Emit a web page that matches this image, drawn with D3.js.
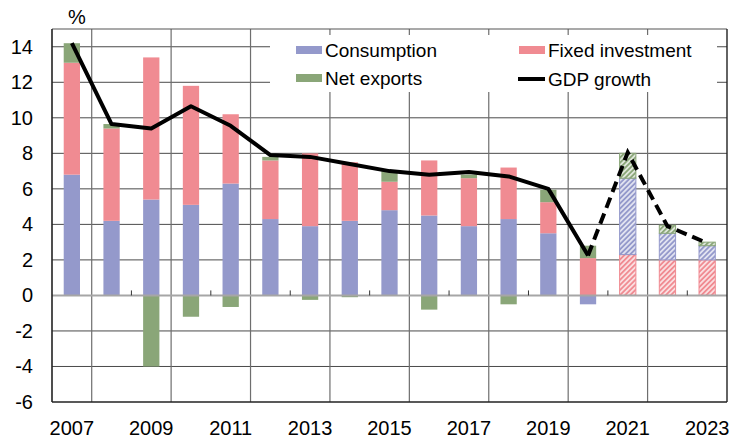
<!DOCTYPE html>
<html>
<head>
<meta charset="utf-8">
<script src="https://cdn.jsdelivr.net/npm/d3@7"></script>
<style>
  html, body { margin: 0; padding: 0; background: #fff; }
  svg { display: block; font-family: "Liberation Sans", Arial, sans-serif; }
</style>
</head>
<body>
<svg id="chart" width="730" height="439"></svg>
<script>
const years = [2007, 2008, 2009, 2010, 2011, 2012, 2013, 2014, 2015, 2016, 2017, 2018, 2019, 2020, 2021, 2022, 2023];
const consumption = [6.8, 4.2, 5.4, 5.1, 6.3, 4.3, 3.9, 4.2, 4.8, 4.5, 3.9, 4.3, 3.5, -0.5, 4.3, 1.5, 0.8];
const investment = [6.3, 5.2, 8.0, 6.7, 3.9, 3.3, 4.1, 3.3, 1.6, 3.1, 2.7, 2.9, 1.75, 2.1, 2.3, 2.0, 2.0];
const netExports = [1.1, 0.25, -4.0, -1.2, -0.65, 0.2, -0.25, -0.1, 0.6, -0.8, 0.2, -0.5, 0.7, 0.7, 1.4, 0.45, 0.2];
const gdpGrowth = [14.2, 9.65, 9.4, 10.65, 9.55, 7.9, 7.8, 7.4, 7.0, 6.8, 6.95, 6.7, 6.0, 2.25, 8.05, 3.9, 2.95];
const firstForecastYear = 2021;
const yTicks = [-6, -4, -2, 0, 2, 4, 6, 8, 10, 12, 14];
const xLabels = [2007, 2009, 2011, 2013, 2015, 2017, 2019, 2021, 2023];
const seriesNames = ["Consumption", "Fixed investment", "Net exports", "GDP growth"];

const colors = { c: "#9499cb", i: "#f08b92", nx: "#8aa678" };

const svg = d3.select("#chart");
const m = { left: 52, right: 3, top: 29, bottom: 37 };
const W = 730, H = 439;

const x = d3.scaleBand().domain(years).range([m.left, W - m.right]).paddingInner(0).paddingOuter(0);
const y = d3.scaleLinear().domain([-6, 15]).range([H - m.bottom, m.top]);
const bw = x.bandwidth() * 0.41;

// patterns
const defs = svg.append("defs");
Object.entries(colors).forEach(([k, col]) => {
  const p = defs.append("pattern").attr("id", "hatch-" + k)
    .attr("patternUnits", "userSpaceOnUse").attr("width", 3.6).attr("height", 3.6)
    .attr("patternTransform", "rotate(45)");
  p.append("rect").attr("width", 3.6).attr("height", 3.6).attr("fill", col);
  p.append("line").attr("x1", 0.9).attr("y1", 0).attr("x2", 0.9).attr("y2", 3.6)
    .attr("stroke", "#fff").attr("stroke-width", 1.3);
});

// gridlines horizontal
svg.append("g").selectAll("line").data(yTicks.filter(d => d !== 0 && d !== -6)).join("line")
  .attr("x1", m.left).attr("x2", W - m.right)
  .attr("y1", d => y(d)).attr("y2", d => y(d))
  .attr("stroke", "#4a4a4a").attr("stroke-width", 1);

// vertical gridlines at every second boundary
const boundaries = years.slice(1).map(yr => x(yr));
svg.append("g").selectAll("line").data(boundaries.filter((d, i) => i % 2 === 0)).join("line")
  .attr("x1", d => d).attr("x2", d => d)
  .attr("y1", m.top).attr("y2", H - m.bottom)
  .attr("stroke", "#6e6e6e").attr("stroke-width", 1.2);

// stacking
const stacked = [];
years.forEach((yr, idx) => {
  const fc = yr >= firstForecastYear;
  const parts = { c: consumption[idx], i: investment[idx], nx: netExports[idx] };
  const order = fc ? ["i", "c", "nx"] : ["c", "i", "nx"];
  let pos = 0, neg = 0;
  order.forEach(k => {
    const v = parts[k];
    let y0, y1;
    if (v >= 0) { y0 = pos; y1 = pos + v; pos = y1; }
    else { y0 = neg; y1 = neg + v; neg = y1; }
    stacked.push({ year: yr, key: k, y0, y1, fc });
  });
});

svg.append("g").selectAll("rect").data(stacked).join("rect")
  .attr("x", d => x(d.year) + (x.bandwidth() - bw) / 2)
  .attr("width", bw)
  .attr("y", d => y(Math.max(d.y0, d.y1)))
  .attr("height", d => Math.abs(y(d.y0) - y(d.y1)))
  .attr("fill", d => d.fc ? `url(#hatch-${d.key})` : colors[d.key])
  .attr("stroke", d => d.fc ? colors[d.key] : "none")
  .attr("stroke-width", 1);

// zero line
svg.append("line").attr("x1", m.left).attr("x2", W - m.right)
  .attr("y1", y(0)).attr("y2", y(0)).attr("stroke", "#a6a6a6").attr("stroke-width", 2);

// minor ticks at other boundaries
svg.append("g").selectAll("line").data(boundaries.filter((d, i) => i % 2 === 1)).join("line")
  .attr("x1", d => d).attr("x2", d => d)
  .attr("y1", y(0) - 5).attr("y2", y(0))
  .attr("stroke", "#333").attr("stroke-width", 1);

// frame
svg.append("line").attr("x1", m.left).attr("x2", W - m.right).attr("y1", m.top).attr("y2", m.top)
  .attr("stroke", "#555").attr("stroke-width", 1.2);
svg.append("line").attr("x1", W - m.right).attr("x2", W - m.right).attr("y1", m.top).attr("y2", H - m.bottom)
  .attr("stroke", "#222").attr("stroke-width", 1.4);
svg.append("line").attr("x1", m.left).attr("x2", W - m.right).attr("y1", H - m.bottom).attr("y2", H - m.bottom)
  .attr("stroke", "#222").attr("stroke-width", 1.6);
svg.append("line").attr("x1", m.left).attr("x2", m.left).attr("y1", m.top).attr("y2", H - m.bottom)
  .attr("stroke", "#222").attr("stroke-width", 1.6);

// GDP line
const pts = years.map((yr, i) => ({ yr, v: gdpGrowth[i] }));
const line = d3.line().x(d => x(d.yr) + x.bandwidth() / 2).y(d => y(d.v));
const solidPts = pts.filter(d => d.yr < firstForecastYear);
const dashPts = pts.filter(d => d.yr >= firstForecastYear - 1);
svg.append("path").attr("d", line(solidPts)).attr("fill", "none")
  .attr("stroke", "#000").attr("stroke-width", 4).attr("stroke-linejoin", "round");
svg.append("path").attr("d", line(dashPts)).attr("fill", "none")
  .attr("stroke", "#000").attr("stroke-width", 4).attr("stroke-dasharray", "11,6");

// legend
const lg = svg.append("g");
lg.append("rect").attr("x", 270).attr("y", 35).attr("width", 447).attr("height", 57).attr("fill", "#fff");
const legendItems = [
  { name: seriesNames[0], type: "rect", col: colors.c, lx: 296, ly: 50 },
  { name: seriesNames[1], type: "rect", col: colors.i, lx: 519, ly: 50 },
  { name: seriesNames[2], type: "rect", col: colors.nx, lx: 296, ly: 78 },
  { name: seriesNames[3], type: "line", col: "#000", lx: 519, ly: 79 }
];
legendItems.forEach(d => {
  if (d.type === "rect") {
    lg.append("rect").attr("x", d.lx).attr("y", d.ly - 4).attr("width", 26).attr("height", 8).attr("fill", d.col);
  } else {
    lg.append("line").attr("x1", d.lx - 1).attr("x2", d.lx + 26).attr("y1", d.ly).attr("y2", d.ly)
      .attr("stroke", d.col).attr("stroke-width", 4);
  }
  lg.append("text").attr("x", d.lx + 29).attr("y", d.ly + 7).attr("font-size", 19).attr("fill", "#000").text(d.name);
});

// y tick labels
svg.append("g").selectAll("text").data(yTicks).join("text")
  .attr("x", 33).attr("y", d => y(d) + 7)
  .attr("text-anchor", "end").attr("font-size", 20).attr("fill", "#000")
  .text(d => d);

// x labels
svg.append("g").selectAll("text").data(xLabels).join("text")
  .attr("x", d => x(d) + x.bandwidth() / 2).attr("y", 435)
  .attr("text-anchor", "middle").attr("font-size", 20).attr("fill", "#000")
  .text(d => d);

// unit label
svg.append("text").attr("x", 68).attr("y", 24).attr("font-size", 20).attr("fill", "#000").text("%");
</script>
</body>
</html>
